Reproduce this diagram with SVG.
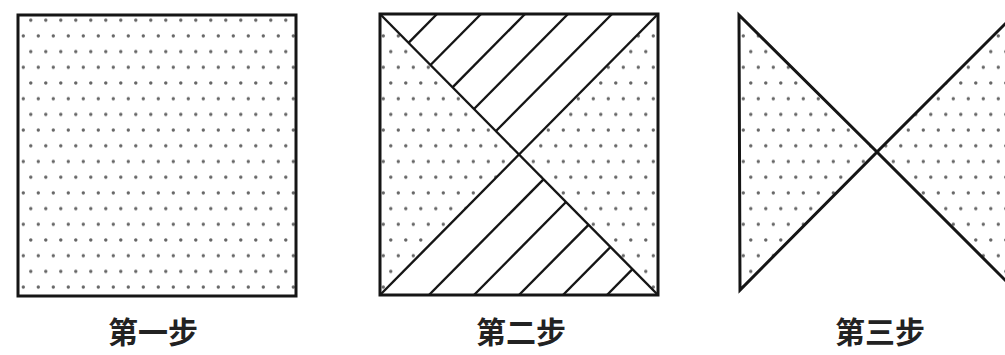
<svg xmlns="http://www.w3.org/2000/svg" width="1005" height="355" viewBox="0 0 1005 355">
<style>
.edge{fill:none;stroke:#151515;stroke-width:3;stroke-linejoin:miter}
.dot{fill:url(#dots);stroke:none}
.line{fill:none;stroke:#151515;stroke-width:2.4;stroke-linecap:butt}
.lbl{font-family:"Noto Sans CJK SC","Noto Sans CJK JP",sans-serif;font-size:30px;font-weight:700;fill:#222;text-anchor:middle}
</style>
<defs>
<pattern id="dots" patternUnits="userSpaceOnUse" x="0" y="4.5" width="15" height="31.4">
<circle cx="8.3" cy="0" r="1.7" fill="#666"/>
<circle cx="0.8" cy="15.7" r="1.7" fill="#666"/>
<circle cx="15.8" cy="15.7" r="1.7" fill="#666"/>
<circle cx="8.3" cy="31.4" r="1.7" fill="#666"/>
</pattern>
</defs>
<g id="step1">
<rect x="18" y="15" width="278" height="281" class="dot"/>
<rect x="18" y="15" width="278" height="281" class="edge"/>
<text class="lbl" x="153" y="343">第一步</text>
</g>
<g id="step2">
<polygon points="380,14 519,154.5 380,295" class="dot"/>
<polygon points="658,14 519,154.5 658,295" class="dot"/>
<rect x="380" y="14" width="278" height="281" class="edge"/>
<line class="line" x1="380" y1="14" x2="658" y2="295"/>
<line class="line" x1="380" y1="295" x2="658" y2="14"/>
<line class="line" x1="612" y1="14" x2="496" y2="131"/>
<line class="line" x1="568" y1="14" x2="474" y2="109"/>
<line class="line" x1="525" y1="14" x2="452.5" y2="87.3"/>
<line class="line" x1="481" y1="14" x2="430.5" y2="65"/>
<line class="line" x1="437" y1="14" x2="408.5" y2="42.8"/>
<line class="line" x1="429" y1="295" x2="543.5" y2="179.3"/>
<line class="line" x1="474" y1="295" x2="566" y2="202"/>
<line class="line" x1="519" y1="295" x2="588.5" y2="224.8"/>
<line class="line" x1="563" y1="295" x2="610.5" y2="247"/>
<line class="line" x1="607" y1="295" x2="632.5" y2="269.2"/>
<text class="lbl" x="521" y="343">第二步</text>
</g>
<g id="step3">
<polygon points="739,15 877,152 740,290" class="dot"/>
<polygon points="1017,12 877,152 1017,292" class="dot"/>
<polygon points="739,15 877,152 740,290" class="edge"/>
<polygon points="1017,12 877,152 1017,292" class="edge"/>
<text class="lbl" x="880" y="343">第三步</text>
</g>
</svg>
